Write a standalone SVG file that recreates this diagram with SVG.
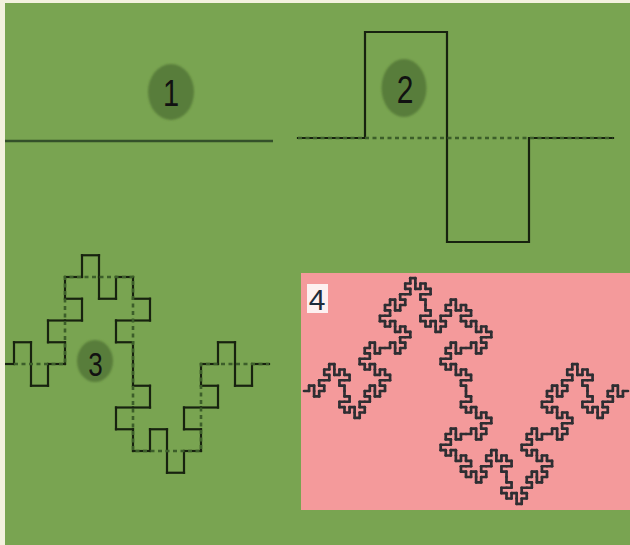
<svg xmlns="http://www.w3.org/2000/svg" xmlns:xlink="http://www.w3.org/1999/xlink" width="630" height="545" viewBox="0 0 630 545">
  <style>
    .lbl { fill: #587d3a; }
    .num { font-family: "Liberation Sans", Arial, sans-serif; fill: #111; text-anchor: middle; }
    .solid { fill: none; stroke: #17220f; stroke-width: 2.2; stroke-linecap: square; }
    .dots { fill: none; stroke: #3c5e2a; stroke-width: 2.6; stroke-dasharray: 4 3.5; }
  </style>
  <defs>
    <clipPath id="frame"><rect x="5" y="3" width="625" height="542"/></clipPath>
    <filter id="soft" x="-20%" y="-20%" width="140%" height="140%"><feGaussianBlur stdDeviation="1.2"/></filter>
    <filter id="soft2" x="-5%" y="-5%" width="110%" height="110%"><feGaussianBlur stdDeviation="0.55"/></filter>
    <!-- Minkowski sausage: level 0 unit segment and recursive generator -->
    <path id="k0" d="M0 0H1" fill="none" vector-effect="non-scaling-stroke"/>
    <g id="k1">
      <use href="#k0" transform="scale(.25)"/>
      <use href="#k0" transform="translate(.25 0) rotate(-90) scale(.25)"/>
      <use href="#k0" transform="translate(.25 -.25) scale(.25)"/>
      <use href="#k0" transform="translate(.5 -.25) rotate(90) scale(.25)"/>
      <use href="#k0" transform="translate(.5 0) rotate(90) scale(.25)"/>
      <use href="#k0" transform="translate(.5 .25) scale(.25)"/>
      <use href="#k0" transform="translate(.75 .25) rotate(-90) scale(.25)"/>
      <use href="#k0" transform="translate(.75 0) scale(.25)"/>
    </g>
    <g id="k2">
      <use href="#k1" transform="scale(.25)"/>
      <use href="#k1" transform="translate(.25 0) rotate(-90) scale(.25)"/>
      <use href="#k1" transform="translate(.25 -.25) scale(.25)"/>
      <use href="#k1" transform="translate(.5 -.25) rotate(90) scale(.25)"/>
      <use href="#k1" transform="translate(.5 0) rotate(90) scale(.25)"/>
      <use href="#k1" transform="translate(.5 .25) scale(.25)"/>
      <use href="#k1" transform="translate(.75 .25) rotate(-90) scale(.25)"/>
      <use href="#k1" transform="translate(.75 0) scale(.25)"/>
    </g>
    <g id="k3">
      <use href="#k2" transform="scale(.25)"/>
      <use href="#k2" transform="translate(.25 0) rotate(-90) scale(.25)"/>
      <use href="#k2" transform="translate(.25 -.25) scale(.25)"/>
      <use href="#k2" transform="translate(.5 -.25) rotate(90) scale(.25)"/>
      <use href="#k2" transform="translate(.5 0) rotate(90) scale(.25)"/>
      <use href="#k2" transform="translate(.5 .25) scale(.25)"/>
      <use href="#k2" transform="translate(.75 .25) rotate(-90) scale(.25)"/>
      <use href="#k2" transform="translate(.75 0) scale(.25)"/>
    </g>
  </defs>

  <!-- background -->
  <rect x="0" y="0" width="630" height="545" fill="#f3f1de"/>
  <rect x="5" y="3" width="625" height="542" fill="#79a451"/>

  <!-- panel 1: initiator -->
  <g id="panel1">
    <line x1="5" y1="141" x2="273" y2="141" stroke="#34502a" stroke-width="2.6"/>
    <ellipse class="lbl" cx="171" cy="92" rx="23" ry="28" filter="url(#soft)"/>
    <text class="num" font-size="29" transform="translate(171 106) scale(1 1.3)">1</text>
  </g>

  <!-- panel 2: generator -->
  <g id="panel2">
    <path class="solid" d="M298 138H365V32H447V242H529V138H613" stroke-linecap="butt"/>
    <line class="dots" x1="365" y1="138" x2="613" y2="138"/>
    <line class="dots" x1="298" y1="138" x2="365" y2="138" stroke-dasharray="5 2"/>
    <ellipse class="lbl" cx="404" cy="88" rx="22.5" ry="29" filter="url(#soft)"/>
    <text class="num" font-size="30" transform="translate(405 103) scale(1 1.3)">2</text>
  </g>

  <!-- panel 3: second iteration -->
  <g id="panel3" clip-path="url(#frame)">
    <use href="#k2" class="solid" transform="translate(-3 364) scale(272 348)"/>
    <path class="dots" d="M14 364H65V277H133V451H201V364H269" stroke-width="2.4"/>
    <ellipse class="lbl" cx="95" cy="361" rx="18" ry="21" filter="url(#soft)"/>
    <text class="num" font-size="26" transform="translate(95.5 376) scale(1 1.25)">3</text>
  </g>

  <!-- panel 4: third iteration -->
  <g id="panel4">
    <rect x="301" y="273" width="329" height="237" fill="#f49a9b"/>
    <g filter="url(#soft2)">
      <use href="#k3" fill="none" stroke="#2e2e33" stroke-width="2.7" stroke-linecap="round" transform="translate(304 391) scale(324 344)"/>
    </g>
    <rect x="307" y="284" width="21" height="29" fill="#ffffff" opacity="0.85" filter="url(#soft2)"/>
    <text class="num" font-size="30" x="317" y="310" style="fill:#1d2b3a">4</text>
  </g>
</svg>
